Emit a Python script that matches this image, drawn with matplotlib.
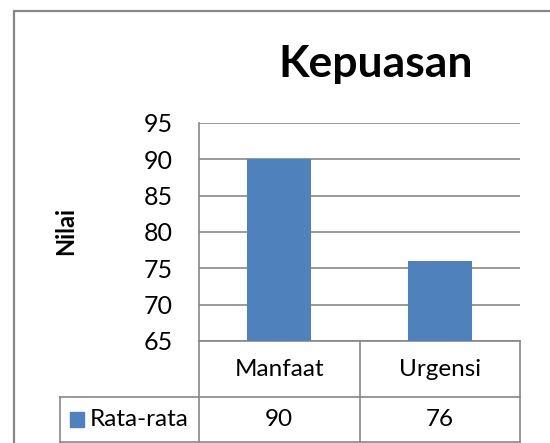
import matplotlib.pyplot as plt
from matplotlib.patches import Rectangle
from matplotlib.lines import Line2D

# Data
categories = ["Manfaat", "Urgensi"]
values = [90, 76]
series_name = "Rata-rata"
y_ticks = [65, 70, 75, 80, 85, 90, 95]

bar_color = "#4F81BD"
line_color = "#878787"
plt.rcParams['font.family'] = ['Lato', 'DejaVu Sans']

fig = plt.figure(figsize=(5.5, 4.43), dpi=100)

# Outer chart border (runs off the right/bottom edges like the original)
fig.patches.append(Rectangle((14 / 550, -0.2), 1.2, 0.2 + (1 - 10.5 / 443),
                             transform=fig.transFigure, fill=False,
                             edgecolor=line_color, linewidth=1.6))

ax = fig.add_axes([199 / 550, (443 - 341) / 443, 321 / 550, 218 / 443])

x = range(len(categories))
ax.bar(x, values, width=0.4, color=bar_color, zorder=3)
ax.set_xlim(-0.5, len(categories) - 0.5)
ax.set_ylim(min(y_ticks), max(y_ticks))
ax.set_yticks(y_ticks)
ax.set_xticks([])
ax.tick_params(axis='y', length=0, pad=19, labelsize=18)
ax.grid(axis='y', color=line_color, linewidth=1.2, zorder=0)
for s in ["top", "right", "bottom"]:
    ax.spines[s].set_visible(False)
ax.spines["left"].set_color(line_color)
ax.spines["left"].set_linewidth(1.2)

fig.text(66 / 550, 1 - 231 / 443, "Nilai", fontsize=17, fontweight="bold",
         rotation=90, ha="center", va="center")
fig.text(376 / 550, 1 - 64 / 443, "Kepuasan", fontsize=32, fontweight="bold",
         ha="center", va="center")

# Data table below the axes (axes coordinates)
row1 = -0.259
row2 = -0.462
legend_left = -0.433
tr = ax.transAxes
lines = [
    ([0, 1], [0, 0]),
    ([legend_left, 1], [row1, row1]),
    ([legend_left, 1], [row2, row2]),
    ([legend_left, legend_left], [row1, row2]),
    ([0, 0], [0, row2]),
    ([0.5, 0.5], [0, row2]),
    ([1, 1], [0, row2]),
]
for xs, ys in lines:
    ax.add_line(Line2D(xs, ys, transform=tr, color=line_color,
                       linewidth=1.2, clip_on=False))

n = len(categories)
for i, (cat, val) in enumerate(zip(categories, values)):
    cx = (i + 0.5) / n
    ax.text(cx, row1 / 2, cat, transform=tr, ha="center", va="center", fontsize=17.5)
    ax.text(cx, (row1 + row2) / 2, str(val), transform=tr, ha="center",
            va="center", fontsize=17.5)

ym = (row1 + row2) / 2
ax.add_patch(Rectangle((legend_left + 0.03, ym - 0.033), 0.044, 0.066,
                       transform=tr, color=bar_color, clip_on=False))
ax.text(legend_left + 0.093, ym, series_name, transform=tr, ha="left",
        va="center", fontsize=17.5)

fig.savefig("out.png", dpi=100)
